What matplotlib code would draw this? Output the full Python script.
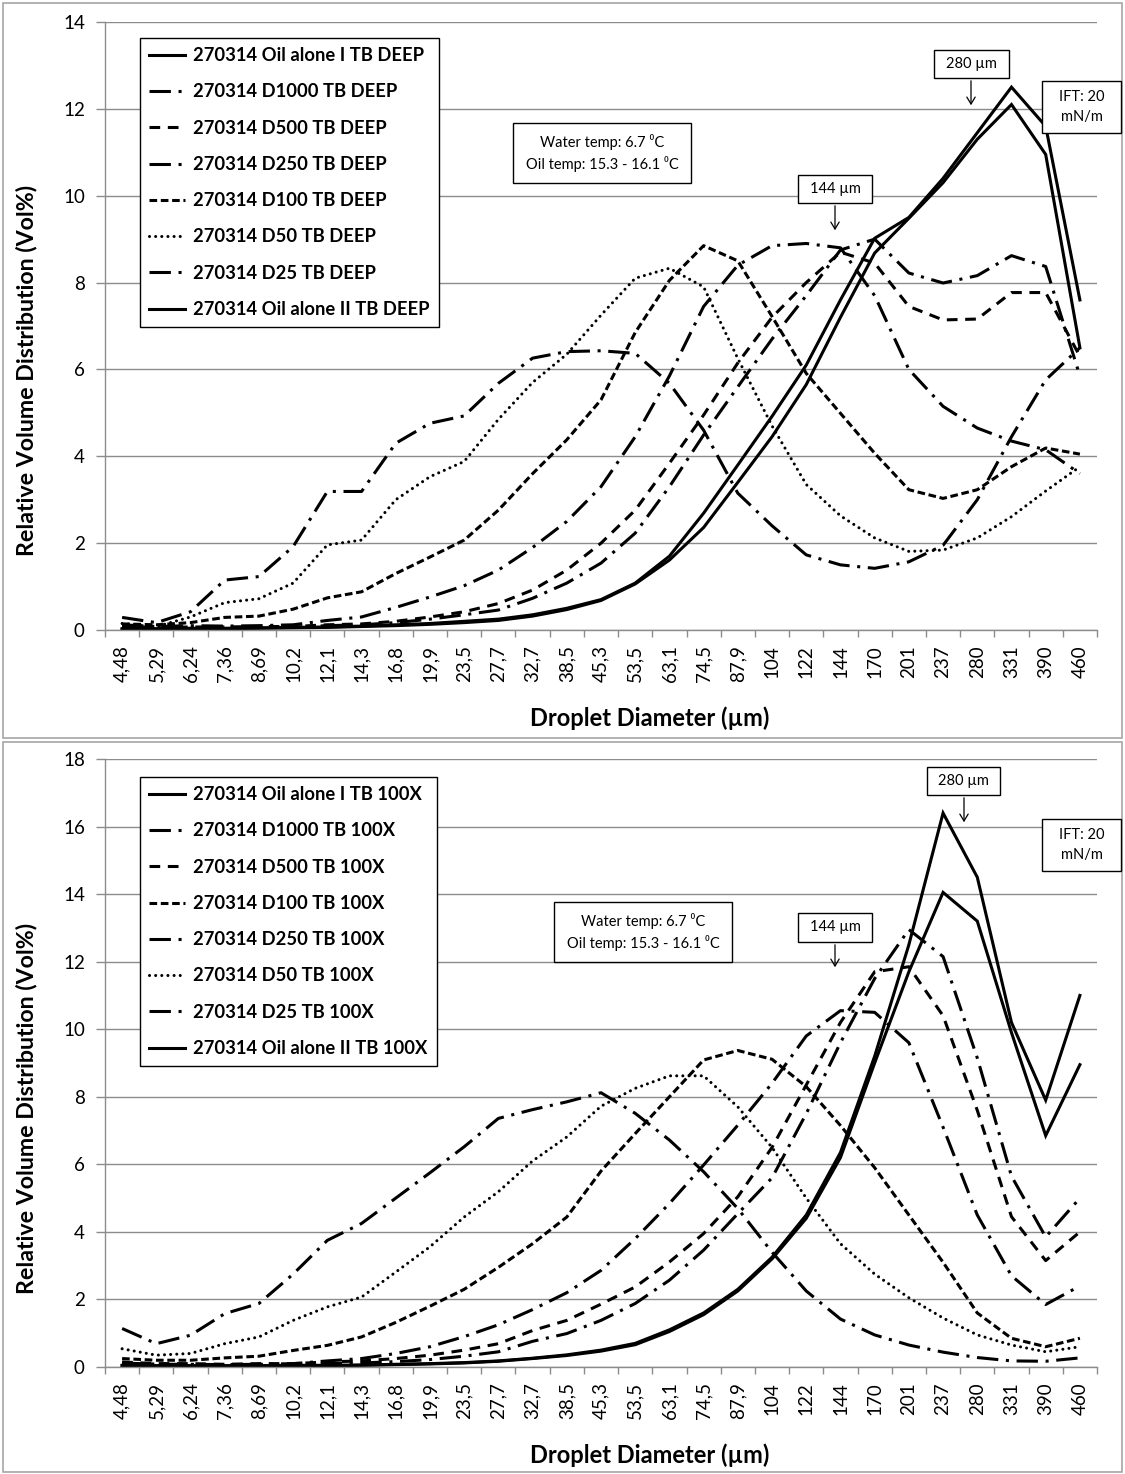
import numpy as np
import matplotlib as mpl
import matplotlib.pyplot as plt
from matplotlib.patches import Rectangle, FancyArrowPatch

W, H = 1125, 1474
plt.rcParams['font.family'] = ['Lato', 'DejaVu Sans']

# droplet size classes (category labels on x)
sizes = ['4,48', '5,29', '6,24', '7,36', '8,69', '10,2', '12,1', '14,3', '16,8', '19,9',
         '23,5', '27,7', '32,7', '38,5', '45,3', '53,5', '63,1', '74,5', '87,9', '104',
         '122', '144', '170', '201', '237', '280', '331', '390', '460']

# --- TB DEEP ---
oil1_deep = [0.03, 0.03, 0.04, 0.04, 0.05, 0.06, 0.07, 0.09, 0.12, 0.15, 0.20, 0.25, 0.35, 0.50, 0.70,
             1.08, 1.70, 2.69, 3.80, 4.92, 6.10, 7.60, 9.02, 9.50, 10.40, 11.45, 12.50, 11.60, 7.60]
d1000_deep = [0.08, 0.04, 0.05, 0.05, 0.07, 0.07, 0.10, 0.12, 0.17, 0.25, 0.35, 0.46, 0.73, 1.08, 1.54,
              2.23, 3.30, 4.49, 5.60, 6.70, 7.70, 8.75, 9.00, 8.22, 7.99, 8.16, 8.62, 8.37, 5.85]
d500_deep = [0.10, 0.05, 0.07, 0.07, 0.08, 0.08, 0.12, 0.14, 0.20, 0.30, 0.42, 0.61, 0.92, 1.38, 2.00,
             2.76, 3.84, 4.95, 6.15, 7.20, 8.00, 8.70, 8.45, 7.45, 7.14, 7.16, 7.77, 7.77, 6.30]
d250_deep = [0.12, 0.08, 0.10, 0.09, 0.10, 0.12, 0.22, 0.30, 0.52, 0.76, 1.02, 1.38, 1.90, 2.50, 3.30,
             4.45, 5.85, 7.45, 8.40, 8.85, 8.90, 8.80, 7.70, 6.00, 5.15, 4.65, 4.35, 4.15, 3.60]
d100_deep = [0.14, 0.12, 0.17, 0.29, 0.32, 0.48, 0.74, 0.88, 1.30, 1.68, 2.07, 2.76, 3.60, 4.38, 5.30,
             6.85, 8.05, 8.85, 8.50, 7.22, 5.91, 4.99, 4.07, 3.23, 3.03, 3.23, 3.76, 4.19, 4.05]
d50_deep = [0.15, 0.08, 0.30, 0.63, 0.72, 1.08, 1.96, 2.07, 3.00, 3.53, 3.88, 4.85, 5.70, 6.35, 7.25,
            8.10, 8.33, 7.90, 6.25, 4.70, 3.35, 2.63, 2.12, 1.81, 1.84, 2.12, 2.61, 3.20, 3.76]
d25_deep = [0.29, 0.17, 0.42, 1.15, 1.23, 1.92, 3.19, 3.19, 4.30, 4.76, 4.93, 5.68, 6.26, 6.41, 6.43,
            6.37, 5.68, 4.60, 3.15, 2.40, 1.73, 1.50, 1.42, 1.57, 1.95, 3.00, 4.45, 5.76, 6.50]
oil2_deep = [0.02, 0.02, 0.03, 0.03, 0.04, 0.05, 0.06, 0.08, 0.10, 0.13, 0.17, 0.22, 0.32, 0.47, 0.68,
             1.06, 1.61, 2.36, 3.40, 4.45, 5.65, 7.20, 8.68, 9.48, 10.30, 11.30, 12.10, 10.95, 6.50]

# --- TB 100X ---
oil1_100x = [0.05, 0.04, 0.04, 0.04, 0.04, 0.05, 0.05, 0.06, 0.08, 0.10, 0.13, 0.18, 0.26, 0.36, 0.50,
             0.70, 1.10, 1.60, 2.30, 3.25, 4.50, 6.35, 9.20, 12.50, 16.40, 14.50, 10.20, 7.90, 11.00]
d1000_100x = [0.12, 0.08, 0.06, 0.05, 0.07, 0.07, 0.10, 0.12, 0.16, 0.22, 0.32, 0.45, 0.76, 0.99, 1.38,
              1.88, 2.57, 3.46, 4.54, 5.60, 7.50, 9.60, 11.50, 12.95, 12.15, 9.15, 5.65, 3.85, 5.00]
d500_100x = [0.15, 0.10, 0.10, 0.08, 0.10, 0.10, 0.15, 0.18, 0.25, 0.35, 0.50, 0.69, 1.08, 1.38, 1.86,
             2.37, 3.11, 3.95, 5.04, 6.50, 8.35, 10.20, 11.70, 11.85, 10.40, 7.60, 4.45, 3.15, 4.00]
d100_100x = [0.25, 0.20, 0.20, 0.27, 0.32, 0.49, 0.64, 0.89, 1.32, 1.80, 2.30, 2.95, 3.65, 4.44, 5.80,
             6.91, 8.00, 9.09, 9.37, 9.11, 8.30, 7.15, 5.90, 4.50, 3.10, 1.60, 0.85, 0.60, 0.85]
d250_100x = [0.10, 0.08, 0.08, 0.07, 0.08, 0.10, 0.18, 0.25, 0.40, 0.60, 0.90, 1.25, 1.70, 2.20, 2.86,
             3.80, 4.84, 5.98, 7.16, 8.40, 9.80, 10.55, 10.50, 9.60, 7.10, 4.50, 2.70, 1.85, 2.40]
d50_100x = [0.54, 0.35, 0.40, 0.69, 0.89, 1.38, 1.78, 2.07, 2.81, 3.56, 4.44, 5.19, 6.10, 6.81, 7.72,
            8.25, 8.62, 8.62, 7.70, 6.50, 5.00, 3.65, 2.75, 2.05, 1.45, 0.95, 0.65, 0.45, 0.60]
d25_100x = [1.14, 0.69, 0.94, 1.58, 1.88, 2.75, 3.75, 4.25, 5.00, 5.75, 6.52, 7.36, 7.62, 7.85, 8.12,
            7.51, 6.72, 5.78, 4.69, 3.40, 2.25, 1.42, 0.95, 0.65, 0.44, 0.28, 0.18, 0.17, 0.27]
oil2_100x = [0.04, 0.03, 0.03, 0.03, 0.03, 0.04, 0.04, 0.05, 0.07, 0.09, 0.12, 0.17, 0.25, 0.34, 0.47,
             0.66, 1.05, 1.55, 2.25, 3.20, 4.40, 6.20, 9.00, 11.70, 14.05, 13.20, 9.90, 6.85, 8.95]

deep_names = ['Oil alone I', 'D1000', 'D500', 'D250', 'D100', 'D50', 'D25', 'Oil alone II']
deep_vals = [oil1_deep, d1000_deep, d500_deep, d250_deep, d100_deep, d50_deep, d25_deep, oil2_deep]
x100_names = ['Oil alone I', 'D1000', 'D500', 'D100', 'D250', 'D50', 'D25', 'Oil alone II']
x100_vals = [oil1_100x, d1000_100x, d500_100x, d100_100x, d250_100x, d50_100x, d25_100x, oil2_100x]

LDD = (0, (7, 2.5, 1, 2.5))
STYLE = {
    'Oil alone I': dict(ls='-'),
    'D1000': dict(ls=LDD),
    'D500': dict(ls=(0, (3.5, 2.5))),
    'D250': dict(ls=LDD),
    'D100': dict(ls=(0, (2.5, 1.2))),
    'D50': dict(ls=(0, (0.01, 2.0)), dash_capstyle='round'),
    'D25': dict(ls=LDD),
    'Oil alone II': dict(ls='-'),
}
GRID = '#8c8c8c'


def fx(px):
    return px / W


def fy(py):
    return 1 - py / H


def box_note(text, x0, y0, x1, y1, arrow=None, size=10.5):
    fig.add_artist(Rectangle((fx(x0), fy(y1)), fx(x1) - fx(x0), fy(y0) - fy(y1),
                             transform=fig.transFigure, fc='white', ec='black', lw=1.0, zorder=5))
    fig.text(fx((x0 + x1) / 2), fy((y0 + y1) / 2), text, ha='center', va='center',
             fontsize=size, linespacing=1.5, zorder=6)
    if arrow:
        ax_, a0, a1 = arrow
        fig.add_artist(FancyArrowPatch((fx(ax_), fy(a0)), (fx(ax_), fy(a1)),
                                       transform=fig.transFigure,
                                       arrowstyle='->,head_length=5,head_width=3',
                                       lw=0.9, color='black', zorder=6))


def panel(border, plot, ymax, names, vals, suffix, leg_xy, ytitle_y, xtitle_y, notes):
    bx0, by0, bx1, by1 = border
    fig.add_artist(Rectangle((fx(bx0), fy(by1)), fx(bx1) - fx(bx0), fy(by0) - fy(by1),
                             transform=fig.transFigure, fill=False, ec='#a6a6a6', lw=1.2, zorder=-1))
    px0, py0, px1, py1 = plot
    ax = fig.add_axes([fx(px0), fy(py1), fx(px1) - fx(px0), fy(py0) - fy(py1)])
    handles = []
    for name, v in zip(names, vals):
        h, = ax.plot(sizes, v, color='black', lw=2.2, solid_joinstyle='miter',
                     label='270314 %s TB %s' % (name, suffix), **STYLE[name])
        handles.append(h)
    ax.set_xlim(-0.5, len(sizes) - 0.5)
    ax.set_ylim(0, ymax)
    ax.set_yticks(np.arange(0, ymax + 1, 2))
    ax.yaxis.grid(True, color=GRID, lw=1.0)
    ax.set_axisbelow(True)
    for s in ['top', 'right']:
        ax.spines[s].set_visible(False)
    for s in ['left', 'bottom']:
        ax.spines[s].set_color(GRID)
        ax.spines[s].set_linewidth(1.0)
    ax.tick_params(axis='y', length=6.5, width=1.0, color=GRID, pad=8, labelsize=13.5)
    ax.tick_params(axis='x', which='major', length=0, pad=11, labelsize=13.5, labelrotation=90)
    ax.set_xticks(np.arange(-0.5, len(sizes), 1), minor=True)
    ax.tick_params(axis='x', which='minor', length=5, width=1.0, color=GRID)
    for t in ax.get_xticklabels():
        t.set_va('top')
    fig.text(fx(27), fy(ytitle_y), 'Relative Volume Distribution (Vol%)', rotation=90,
             ha='center', va='center', fontsize=16.7, fontweight='bold')
    fig.text(fx(650), fy(xtitle_y), 'Droplet Diameter (\u00b5m)', ha='center', va='center',
             fontsize=17, fontweight='bold')
    leg = ax.legend(handles=handles, loc='upper left', bbox_to_anchor=(fx(leg_xy[0]), fy(leg_xy[1])),
                    bbox_transform=fig.transFigure, frameon=True, fancybox=False, framealpha=1,
                    edgecolor='black', borderpad=0.5, labelspacing=1.05, handlelength=1.95,
                    handletextpad=0.45, borderaxespad=0, prop=dict(weight='bold', size=13.2))
    leg.get_frame().set_linewidth(1.0)
    for n in notes:
        box_note(*n)
    return ax


fig = plt.figure(figsize=(W / 100, H / 100), dpi=100)

water = 'Water temp: 6.7 \u2070C\nOil temp: 15.3 - 16.1 \u2070C'
panel((3, 3, 1122, 738), (105, 22, 1097, 630), 14, deep_names, deep_vals, 'DEEP',
      (140, 38), 370, 718,
      [(water, 513, 123, 691, 183),
       ('280 \u00b5m', 934, 50, 1009, 78, (971, 78, 108)),
       ('IFT: 20\nmN/m', 1042, 81, 1121, 133),
       ('144 \u00b5m', 798, 175, 872, 203, (835, 203, 233))])
panel((3, 742, 1122, 1472), (105, 759, 1097, 1367), 18, x100_names, x100_vals, '100X',
      (140, 777), 1108, 1455,
      [(water, 554, 902, 732, 962),
       ('280 \u00b5m', 927, 767, 1000, 795, (964, 795, 825)),
       ('IFT: 20\nmN/m', 1042, 819, 1121, 871),
       ('144 \u00b5m', 798, 913, 872, 942, (835, 942, 970))])

fig.savefig('out.png', dpi=100, facecolor='white')
